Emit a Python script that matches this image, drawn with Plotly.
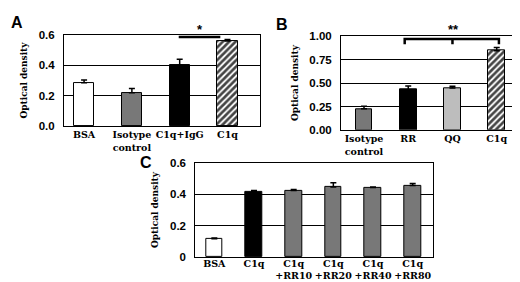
import plotly.graph_objects as go

# ---- data ----
a_cats = ["BSA", "Isotype<br>control", "C1q+IgG", "C1q"]
a_vals = [0.286, 0.219, 0.40, 0.56]
a_errs = [0.017, 0.029, 0.04, 0.01]

b_cats = ["Isotype<br>control", "RR", "QQ", "C1q"]
b_vals = [0.225, 0.43, 0.447, 0.846]
b_errs = [0.028, 0.038, 0.02, 0.034]

c_cats = ["BSA", "C1q", "C1q<br>+RR10", "C1q<br>+RR20", "C1q<br>+RR40", "C1q<br>+RR80"]
c_vals = [0.118, 0.417, 0.425, 0.447, 0.443, 0.456]
c_errs = [0.004, 0.008, 0.006, 0.027, 0.004, 0.013]

a_ticks = [0, 0.2, 0.4, 0.6]
b_ticks = [0, 0.25, 0.5, 0.75, 1.0]
c_ticks = [0, 0.2, 0.4, 0.6]
c_ticktext = ["0", "0.2", "0.4", "0.6"]

# ---- styles ----
DARK = "#787878"
LIGHT = "#bdbdbd"
a_colors = ["white", DARK, "black", "white"]
a_shapes = ["", "", "", "/"]
b_colors = [DARK, "black", LIGHT, "white"]
b_shapes = ["", "", "", "/"]
c_colors = ["white", "black", DARK, DARK, DARK, DARK]
c_shapes = [""] * 6

TICKFONT = dict(family="Liberation Sans", size=11.5, color="black", weight="bold")
CATFONT = dict(family="DejaVu Serif", size=9.5, color="black", weight="bold")
TITLEFONT = dict(family="DejaVu Serif", size=9, color="black", weight="bold")

fig = go.Figure()


def add_bars(cats, vals, errs, colors, shapes, width, xa, ya):
    fig.add_trace(go.Bar(
        x=cats, y=vals, width=width, xaxis=xa, yaxis=ya,
        marker=dict(color=colors, line=dict(color="black", width=1),
                    pattern=dict(shape=shapes, fgcolor="black", fgopacity=1,
                                 size=4.5, solidity=0.6, fillmode="overlay")),
        error_y=dict(type="data", array=errs, arrayminus=[0] * len(errs),
                     symmetric=False, color="black", thickness=1.5, width=3),
        showlegend=False, hoverinfo="skip",
    ))


add_bars(a_cats, a_vals, a_errs, a_colors, a_shapes, 0.42, "x", "y")
add_bars(b_cats, b_vals, b_errs, b_colors, b_shapes, 0.38, "x2", "y2")
add_bars(c_cats, c_vals, c_errs, c_colors, c_shapes, 0.42, "x3", "y3")


def xaxis(domain, rng, anchor, standoff=0):
    return dict(domain=domain, range=rng, anchor=anchor, type="category",
                showline=True, linecolor="black", linewidth=1, mirror=True,
                showgrid=False, ticks="", tickfont=CATFONT, fixedrange=True,
                ticklabelstandoff=standoff)


def yaxis(domain, rng, anchor, tickvals, ticktext=None, fmt=None):
    d = dict(domain=domain, range=rng, anchor=anchor,
             showline=True, linecolor="black", linewidth=1, mirror=True,
             showgrid=True, gridcolor="black", gridwidth=1, zeroline=False,
             ticks="", tickvals=tickvals, tickfont=TICKFONT, ticklabelstandoff=6,
             title=dict(text="Optical density", font=TITLEFONT, standoff=9))
    if ticktext is not None:
        d["ticktext"] = ticktext
    if fmt is not None:
        d["tickformat"] = fmt
    return d


fig.update_layout(
    width=520, height=282,
    margin=dict(l=0, r=0, t=0, b=0),
    paper_bgcolor="white", plot_bgcolor="white",
    bargap=0,
    xaxis=xaxis([0.1077, 0.4846], [-0.42, 3.68], "y"),
    yaxis=yaxis([0.5851, 0.9220], [0, 0.6], "x", a_ticks, fmt=".1f"),
    xaxis2=xaxis([0.6404, 0.990], [-0.52, 3.59], "y2"),
    yaxis2=yaxis([0.5709, 0.9174], [0, 1.0], "x2", b_ticks, fmt=".2f"),
    xaxis3=xaxis([0.3602, 0.8179], [-0.48, 5.52], "y3", standoff=-3),
    yaxis3=yaxis([0.0993, 0.4486], [0, 0.6], "x3", c_ticks, ticktext=c_ticktext),
)

# significance markers
fig.add_shape(type="line", xref="x", yref="y", x0=1.98, x1=2.85, y0=0.587, y1=0.587,
              line=dict(color="black", width=2.5))
fig.add_annotation(xref="paper", yref="paper", x=192 / 520, y=1 - 16 / 282, text="*",
                   showarrow=False, xanchor="center", yanchor="middle",
                   font=dict(family="Liberation Sans", size=13, color="black", weight="bold"))

fig.add_shape(type="path", xref="x2", yref="y2",
              path="M 0.92 0.914 L 0.92 0.972 L 3.05 0.972 L 3.05 0.914",
              line=dict(color="black", width=2.5))
fig.add_shape(type="line", xref="x2", yref="y2", x0=2, x1=2, y0=0.914, y1=0.972,
              line=dict(color="black", width=2.5))
fig.add_annotation(xref="paper", yref="paper", x=445 / 520, y=1 - 16 / 282, text="**",
                   showarrow=False, xanchor="center", yanchor="middle",
                   font=dict(family="Liberation Sans", size=13, color="black", weight="bold"))

# panel letters
for letter, x, y in [("A", 0.017, 0.968), ("B", 0.527, 0.962), ("C", 0.266, 0.45)]:
    fig.add_annotation(xref="paper", yref="paper", x=x, y=y, text=letter, showarrow=False,
                       xanchor="center", yanchor="middle",
                       font=dict(family="Liberation Sans", size=16, color="black", weight="bold"))

fig.write_html("out.html")
